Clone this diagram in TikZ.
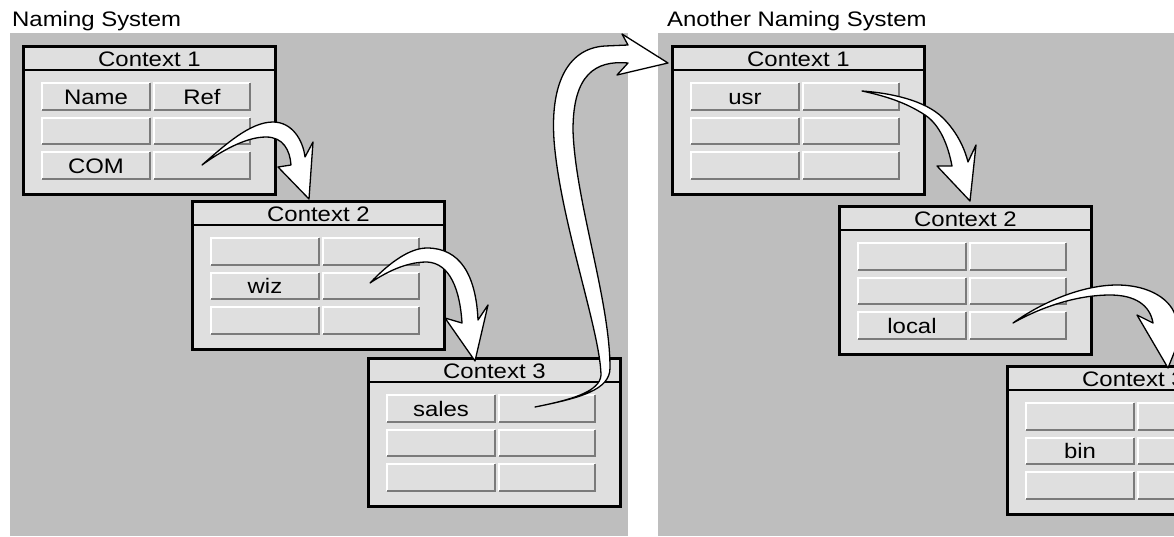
\documentclass[tikz,border=0pt]{standalone}
\usepackage{fontspec}
\setmainfont{Liberation Sans}[FakeStretch=1.14]
\definecolor{panelgray}{gray}{0.745}
\definecolor{boxfill}{gray}{0.875}
\definecolor{shadegray}{gray}{0.48}
\tikzset{
  every node/.style={font=\fontsize{21pt}{25pt}\selectfont},
  panel/.style={fill=panelgray, draw=none},
  ctxframe/.style={draw=black, line width=2.8pt, fill=boxfill, minimum width=252pt,
    minimum height=148pt, inner sep=0pt, anchor=north west},
  sepline/.style={draw=black, line width=2.8pt},
  ctxtitle/.style={inner sep=0pt, text height=15pt, text depth=0pt},
  cellnode/.style={fill=boxfill, draw=none, minimum height=28pt, inner sep=0pt,
    text height=15pt, text depth=0pt},
  hilite/.style={draw=white, line width=2pt},
  shadeline/.style={draw=shadegray, line width=2pt},
  fatarrow/.style={draw=black, fill=white, line width=1.3pt, line join=round},
  heading/.style={anchor=base west, inner sep=0pt}
}
\newcommand{\cellbox}[5]{%
  \node[cellnode, minimum width=#4pt] (#1) at ({#2},{#3}) {#5};
  \draw[hilite] ([shift={(1pt,1pt)}]#1.south west) -- ([shift={(1pt,-1pt)}]#1.north west)
     -- ([shift={(-1pt,-1pt)}]#1.north east);
  \draw[shadeline] ([shift={(-1pt,-1pt)}]#1.north east) -- ([shift={(-1pt,1pt)}]#1.south east)
     -- ([shift={(1pt,1pt)}]#1.south west);
}
\newcommand{\ctxbox}[8]{%
  \node[ctxframe] (#1) at (#2,#3) {};
  \draw[sepline] ([yshift=-25pt]#1.north west) -- ([yshift=-25pt]#1.north east);
  \node[ctxtitle] (#1-title) at ([yshift=-14pt]#1.north) {#4};
  \cellbox{#1-r1c1}{#2+74}{#3+51.5}{110}{#5}
  \cellbox{#1-r1c2}{#2+180}{#3+51.5}{98}{#6}
  \cellbox{#1-r2c1}{#2+74}{#3+86}{110}{#7}
  \cellbox{#1-r2c2}{#2+180}{#3+86}{98}{}
  \cellbox{#1-r3c1}{#2+74}{#3+120.5}{110}{#8}
  \cellbox{#1-r3c2}{#2+180}{#3+120.5}{98}{}
}
\begin{document}
\begin{tikzpicture}[x=1pt, y=-1pt]
  \useasboundingbox (0,0) rectangle (1174,536);
  \clip (0,0) rectangle (1174,536);
  \fill[white] (0,0) rectangle (1174,536);
  % panels
  \fill[panel] (10,33) rectangle (628,536);
  \fill[panel] (658,33) rectangle (1174,536);
  \node[heading] (h1) at (12,26) {Naming System};
  \node[heading] (h2) at (667,26) {Another Naming System};
  % left naming system
  \ctxbox{L1}{22}{45}{Context 1}{Name}{Ref}{}{COM}
  \ctxbox{L2}{191}{200}{Context 2}{}{}{wiz}{}
  \ctxbox{L3}{367}{357}{Context 3}{sales}{}{}{}
  % right naming system
  \ctxbox{R1}{671}{45}{Context 1}{usr}{}{}{}
  \ctxbox{R2}{838}{205}{Context 2}{}{}{}{local}
  \ctxbox{R3}{1006}{365}{Context 3}{}{}{bin}{}
  % arrows
  \draw[fatarrow] (202,165) .. controls (225,145) and (250,122) .. (273,122)
    .. controls (292,122) and (303,140) .. (305,157) -- (313,142) -- (309,199)
    -- (278,167) -- (291,165) .. controls (290,150) and (283,137) .. (266,137)
    .. controls (245,137) and (220,152) .. cycle;
  \draw[fatarrow] (370,283) .. controls (390,262) and (410,248) .. (427,248)
    .. controls (460,248) and (476,275) .. (478,320) -- (488,305) -- (475,361)
    -- (445,318) -- (462,323) .. controls (460,290) and (450,263) .. (427,262)
    .. controls (405,262) and (385,273) .. cycle;
  \draw[fatarrow] (535,407) .. controls (570,400) and (600,392) .. (601,375)
    .. controls (600,330) and (560,220) .. (554,140)
    .. controls (550,80) and (570,48) .. (605,46) -- (628,45) -- (622,34) -- (668,63)
    -- (617,75) -- (628,63) .. controls (595,60) and (573,75) .. (573,130)
    .. controls (575,200) and (610,300) .. (610,368)
    .. controls (610,390) and (580,398) .. cycle;
  \draw[fatarrow] (862,91) .. controls (890,93) and (925,100) .. (943,118)
    .. controls (958,133) and (965,150) .. (968,162) -- (976,145) -- (970,201)
    -- (937,166) -- (952,166) .. controls (948,145) and (940,125) .. (925,115)
    .. controls (905,102) and (885,96) .. cycle;
  \draw[fatarrow] (1013,323) .. controls (1045,300) and (1085,285) .. (1117,285)
    .. controls (1150,285) and (1172,300) .. (1176,318) -- (1192,308) -- (1168,368)
    -- (1137,315) -- (1153,323) .. controls (1150,305) and (1135,295) .. (1110,295)
    .. controls (1080,295) and (1045,305) .. cycle;
\end{tikzpicture}
\end{document}
